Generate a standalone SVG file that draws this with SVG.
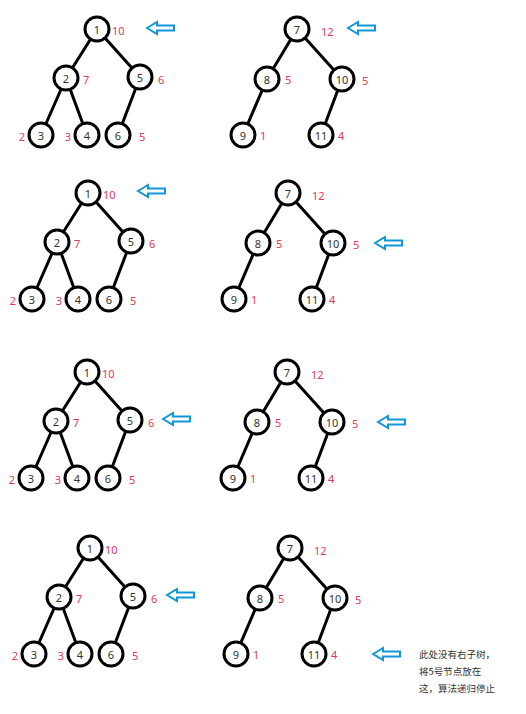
<svg xmlns="http://www.w3.org/2000/svg" width="526" height="714" viewBox="0 0 526 714">
<style>
.e{stroke:#000;stroke-width:3;stroke-linecap:round;fill:none}
.n circle{fill:#fff;stroke:#000;stroke-width:3}
.n text{font-family:"Noto Sans","Liberation Sans",sans-serif;font-size:11px;fill:#333;text-anchor:middle;dominant-baseline:central}
.w{font-family:"Noto Sans","Liberation Sans",sans-serif;font-size:11px;fill:#e8365a;dominant-baseline:central}
.we{text-anchor:end}
.ar{fill:#fff;stroke:#1296db;stroke-width:2;stroke-linejoin:miter}
.note{font-family:"Noto Sans CJK SC","Noto Sans",sans-serif;font-size:9.5px;fill:#333}
</style>
<defs>
<polygon id="arrow" class="ar" points="0,0 10,-6 10,-2.5 27,-2.5 27,2.5 10,2.5 10,6"/>
<g id="edgesL">
<line class="e" x1="0" y1="0" x2="-31" y2="49"/>
<line class="e" x1="0" y1="0" x2="43" y2="48"/>
<line class="e" x1="-31" y1="49" x2="-56" y2="106"/>
<line class="e" x1="-31" y1="49" x2="-10" y2="106"/>
<line class="e" x1="43" y1="48" x2="21" y2="106"/>
</g>
<g id="edgesR">
<line class="e" x1="0" y1="0" x2="-30" y2="50"/>
<line class="e" x1="0" y1="0" x2="45" y2="50"/>
<line class="e" x1="-30" y1="50" x2="-54" y2="106"/>
<line class="e" x1="45" y1="50" x2="24" y2="106"/>
</g>
<g id="treeL">
<g class="n"><circle cx="0" cy="0" r="12"/><text x="0" y="0">1</text></g>
<g class="n"><circle cx="-31" cy="49" r="12"/><text x="-31" y="49">2</text></g>
<g class="n"><circle cx="43" cy="48" r="12"/><text x="43" y="48">5</text></g>
<g class="n"><circle cx="-56" cy="106" r="12"/><text x="-56" y="106">3</text></g>
<g class="n"><circle cx="-10" cy="106" r="12"/><text x="-10" y="106">4</text></g>
<g class="n"><circle cx="21" cy="106" r="12"/><text x="21" y="106">6</text></g>
<text class="w" x="15" y="1">10</text>
<text class="w" x="-14" y="50">7</text>
<text class="w" x="61" y="50">6</text>
<text class="w we" x="-72" y="107">2</text>
<text class="w we" x="-26" y="107">3</text>
<text class="w" x="42" y="107">5</text>
</g>
<g id="treeR">
<g class="n"><circle cx="0" cy="0" r="12"/><text x="0" y="0">7</text></g>
<g class="n"><circle cx="-30" cy="50" r="12"/><text x="-30" y="50">8</text></g>
<g class="n"><circle cx="45" cy="50" r="12"/><text x="45" y="50">10</text></g>
<g class="n"><circle cx="-54" cy="106" r="12"/><text x="-54" y="106">9</text></g>
<g class="n"><circle cx="24" cy="106" r="12"/><text x="24" y="106">11</text></g>
<text class="w" x="24" y="2">12</text>
<text class="w" x="-12" y="50">5</text>
<text class="w" x="65" y="51">5</text>
<text class="w" x="-37" y="106">1</text>
<text class="w" x="41" y="106">4</text>
</g>
</defs>
<g id="connectors">
<use href="#edgesL" x="97" y="29"/>
<use href="#edgesR" x="297" y="29"/>
<use href="#edgesL" x="88" y="193"/>
<use href="#edgesR" x="288" y="193"/>
<use href="#edgesL" x="87" y="372"/>
<use href="#edgesR" x="287" y="372"/>
<use href="#edgesL" x="90" y="548"/>
<use href="#edgesR" x="290" y="548"/>
</g>
<g id="tree1L"><use href="#treeL" x="97" y="29"/></g>
<g id="tree1R"><use href="#treeR" x="297" y="29"/></g>
<g id="tree2L"><use href="#treeL" x="88" y="193"/></g>
<g id="tree2R"><use href="#treeR" x="288" y="193"/></g>
<g id="tree3L"><use href="#treeL" x="87" y="372"/></g>
<g id="tree3R"><use href="#treeR" x="287" y="372"/></g>
<g id="tree4L"><use href="#treeL" x="90" y="548"/></g>
<g id="tree4R"><use href="#treeR" x="290" y="548"/></g>
<g id="arrows">
<use href="#arrow" x="147" y="28"/>
<use href="#arrow" x="348" y="28"/>
<use href="#arrow" x="138" y="191"/>
<use href="#arrow" x="375" y="243"/>
<use href="#arrow" x="163" y="419"/>
<use href="#arrow" x="378" y="422"/>
<use href="#arrow" x="167" y="595"/>
<use href="#arrow" x="373" y="654"/>
</g>
<g id="note">
<text class="note" x="419" y="658">此处没有右子树，</text>
<text class="note" x="419" y="675">将5号节点放在</text>
<text class="note" x="419" y="692">这，算法递归停止</text>
</g>
</svg>
